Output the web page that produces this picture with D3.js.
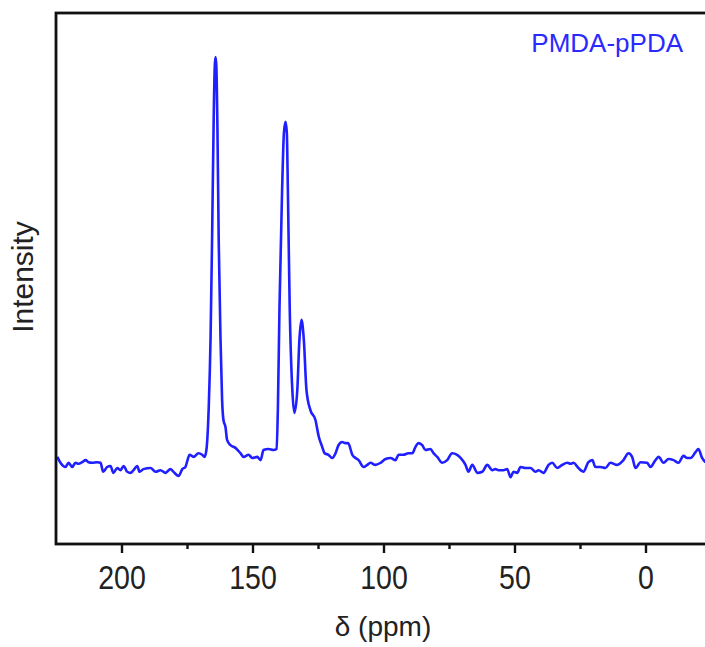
<!DOCTYPE html>
<html>
<head>
<meta charset="utf-8">
<script src="https://cdn.jsdelivr.net/npm/d3@7"></script>
<style>
  body { margin: 0; background: #fff; }
  svg { display: block; }
</style>
</head>
<body>
<svg width="705" height="647"></svg>
<script>
// chemical shift (ppm), left to right
const shift = [224.5, 223.3, 221.4, 220.2, 218.8, 217.6, 216.4, 215.0, 213.7, 212.6, 211.2, 209.3, 208.0, 207.0, 205.5, 204.2, 203.1, 201.6, 200.4, 199.2, 197.8, 196.6, 195.4, 194.0, 193.1, 191.6, 188.9, 187.0, 185.1, 183.2, 181.3, 179.8, 178.2, 176.8, 175.6, 174.8, 174.0, 172.5, 170.6, 169.2, 168.3, 167.6, 166.7, 166.0, 165.4, 164.8, 164.4, 164.1, 163.8, 163.4, 162.9, 162.2, 161.6, 161.1, 160.3, 159.7, 158.4, 156.5, 154.6, 153.4, 151.5, 150.1, 148.2, 146.9, 145.8, 143.9, 142.0, 140.8, 140.3, 139.7, 138.7, 138.0, 137.4, 136.9, 136.5, 135.8, 134.8, 134.0, 132.9, 132.1, 131.3, 130.4, 129.4, 127.9, 126.0, 124.7, 123.4, 122.5, 121.0, 119.6, 118.3, 117.2, 115.8, 114.5, 113.5, 111.9, 110.7, 109.5, 107.6, 106.2, 105.0, 103.1, 101.1, 99.2, 97.3, 95.4, 94.3, 92.4, 90.5, 89.0, 87.8, 86.6, 85.2, 84.0, 82.1, 80.9, 79.5, 77.6, 75.7, 73.8, 71.9, 70.6, 68.7, 67.6, 66.1, 64.2, 62.3, 60.4, 58.5, 57.3, 56.1, 54.2, 52.8, 51.5, 50.4, 49.0, 47.7, 45.8, 43.9, 42.0, 40.8, 38.9, 37.0, 35.6, 33.7, 31.8, 29.9, 28.6, 27.5, 25.6, 23.7, 21.8, 20.3, 19.1, 17.2, 15.3, 13.4, 10.8, 8.4, 6.5, 5.1, 3.8, 1.9, -0.6, -1.9, -3.8, -5.0, -6.9, -8.8, -10.7, -12.6, -14.5, -15.9, -17.2, -19.1, -20.2, -21.6, -22.9];

// intensity, arbitrary units
const intensity = [16.4, 15.3, 14.5, 15.3, 14.5, 15.3, 15.1, 15.4, 15.8, 15.4, 15.3, 15.4, 15.3, 13.6, 14.5, 14.7, 13.4, 14.3, 13.9, 14.7, 13.6, 13.4, 13.9, 14.7, 13.6, 14.1, 14.3, 13.6, 13.9, 13.4, 14.1, 13.4, 12.8, 14.1, 14.5, 15.8, 16.8, 16.4, 17.1, 16.8, 16.4, 17.7, 25.8, 39.0, 58.5, 80.5, 90.0, 91.7, 90.0, 79.0, 57.3, 38.4, 27.1, 23.4, 22.0, 19.6, 18.6, 18.1, 17.1, 16.4, 16.8, 16.2, 16.4, 15.8, 17.7, 17.9, 17.7, 17.9, 25.8, 44.6, 66.7, 77.5, 79.5, 77.5, 66.7, 44.6, 29.0, 24.7, 29.0, 38.4, 42.2, 38.4, 29.0, 25.2, 23.4, 20.2, 18.3, 17.1, 16.8, 16.2, 17.1, 18.6, 19.2, 19.0, 19.0, 16.8, 16.2, 15.8, 14.5, 14.9, 15.3, 14.9, 15.3, 16.0, 16.2, 15.8, 16.8, 16.8, 17.1, 17.1, 18.3, 19.0, 18.6, 17.7, 17.9, 17.1, 16.4, 15.3, 15.8, 17.1, 16.8, 16.2, 14.9, 13.6, 14.9, 13.4, 13.6, 14.9, 13.9, 14.1, 13.9, 13.9, 14.1, 12.6, 13.6, 13.4, 14.5, 14.3, 14.3, 13.6, 13.9, 13.4, 14.9, 15.3, 14.3, 14.9, 15.3, 15.1, 15.3, 14.3, 13.6, 15.4, 15.8, 14.5, 14.5, 14.3, 15.3, 14.9, 15.8, 17.1, 16.4, 14.3, 15.4, 15.3, 14.5, 15.8, 16.4, 15.3, 16.0, 15.8, 15.3, 16.6, 16.2, 16.2, 17.3, 17.9, 16.2, 15.4];

const majorTicks = [200, 150, 100, 50, 0];
const minorTicks = [175, 125, 75, 25];
const sampleName = "PMDA-pPDA";

const svg = d3.select("svg"),
    plotLeft = 56, plotTop = 13, plotBottom = 544, plotRight = 711;

const x = d3.scaleLinear().domain([225, -25]).range([plotLeft, plotRight]),
    y = d3.scaleLinear().domain([0, 100]).range([plotBottom, plotTop]);

const data = shift.map((s, i) => ({ s: s, v: intensity[i] }));

svg.append("clipPath").attr("id", "plot-clip")
    .append("rect")
    .attr("x", plotLeft).attr("y", plotTop)
    .attr("width", plotRight - plotLeft).attr("height", plotBottom - plotTop);

// spectrum
svg.append("path")
    .datum(data)
    .attr("clip-path", "url(#plot-clip)")
    .attr("fill", "none")
    .attr("stroke", "#1f1fff")
    .attr("stroke-width", 2.6)
    .attr("stroke-linejoin", "round")
    .attr("d", d3.line().curve(d3.curveMonotoneX).x(d => x(d.s)).y(d => y(d.v)));

// frame
svg.append("rect")
    .attr("x", plotLeft).attr("y", plotTop)
    .attr("width", plotRight - plotLeft).attr("height", plotBottom - plotTop)
    .attr("fill", "none")
    .attr("stroke", "#111")
    .attr("stroke-width", 2.8);

// minor ticks
svg.append("g")
    .attr("transform", `translate(0,${plotBottom})`)
    .call(d3.axisBottom(x).tickValues(minorTicks).tickSize(5).tickFormat(""))
    .call(g => g.select(".domain").remove())
    .selectAll("line").attr("stroke", "#111").attr("stroke-width", 2.4);

// major ticks + labels
const xAxis = svg.append("g")
    .attr("transform", `translate(0,${plotBottom})`)
    .call(d3.axisBottom(x).tickValues(majorTicks).tickSize(9).tickPadding(12).tickFormat(d3.format("d")));
xAxis.select(".domain").remove();
xAxis.selectAll("line").attr("stroke", "#111").attr("stroke-width", 2.4);
xAxis.selectAll("text")
    .attr("font-family", "Liberation Sans, Arial, sans-serif")
    .attr("font-size", "34px")
    .attr("fill", "#222")
    .attr("dy", "0.71em")
    .attr("transform", "scale(0.84,1)");

// axis titles
svg.append("text")
    .attr("x", 383).attr("y", 636)
    .attr("text-anchor", "middle")
    .attr("font-family", "Liberation Sans, Arial, sans-serif")
    .attr("font-size", "28px")
    .attr("fill", "#222")
    .text("δ (ppm)");

svg.append("text")
    .attr("transform", "translate(33,277) rotate(-90)")
    .attr("text-anchor", "middle")
    .attr("font-family", "Liberation Sans, Arial, sans-serif")
    .attr("font-size", "30px")
    .attr("fill", "#222")
    .text("Intensity");

// sample label
svg.append("text")
    .attr("x", 683).attr("y", 52)
    .attr("text-anchor", "end")
    .attr("font-family", "Liberation Sans, Arial, sans-serif")
    .attr("font-size", "26px")
    .attr("fill", "#2a2aff")
    .text(sampleName);
</script>
</body>
</html>
